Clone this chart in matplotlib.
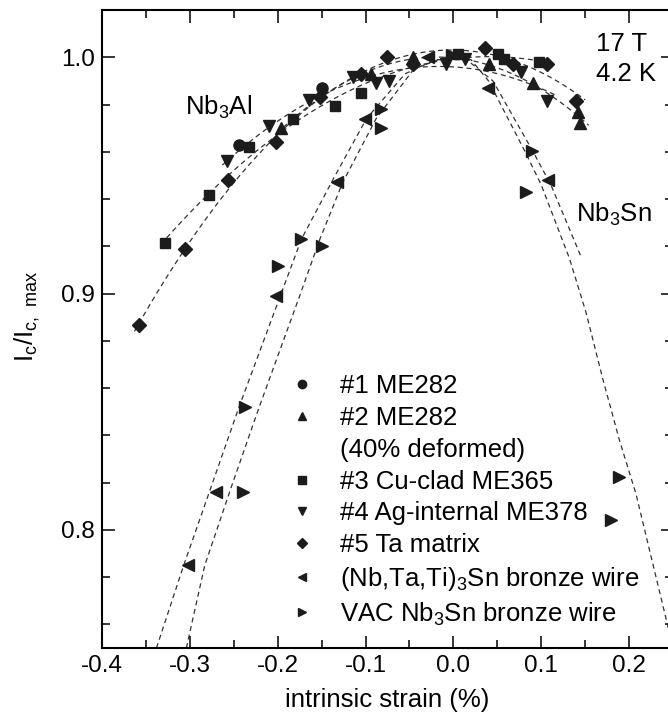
import numpy as np
import matplotlib
matplotlib.use('Agg')
import matplotlib.pyplot as plt
from matplotlib.lines import Line2D
from matplotlib.ticker import MultipleLocator, FormatStrFormatter

plt.rcParams['font.family'] = ['Liberation Sans', 'DejaVu Sans']
plt.rcParams['mathtext.default'] = 'regular'
plt.rcParams['axes.unicode_minus'] = False

# Nb3Al samples (intrinsic strain %, Ic/Ic,max)
s1_x = [-0.244, -0.149]
s1_y = [0.963, 0.987]
s2_x = [-0.196, -0.094, -0.046, 0.041, 0.091, 0.142, 0.144]
s2_y = [0.970, 0.993, 1.000, 0.997, 0.989, 0.977, 0.972]
s3_x = [-0.328, -0.278, -0.233, -0.183, -0.135, -0.105, 0.005, 0.051, 0.058, 0.098]
s3_y = [0.9215, 0.9415, 0.962, 0.974, 0.9795, 0.985, 1.0014, 1.0014, 0.9993, 0.998]
s4_x = [-0.258, -0.210, -0.164, -0.114, -0.088, -0.073, -0.008, 0.013, 0.077, 0.106]
s4_y = [0.956, 0.971, 0.982, 0.9915, 0.989, 0.990, 0.997, 0.9993, 0.9937, 0.9816]
s5_x = [-0.358, -0.305, -0.256, -0.202, -0.152, -0.105, -0.076, -0.046, 0.036, 0.068, 0.106, 0.140]
s5_y = [0.8865, 0.9187, 0.948, 0.964, 0.983, 0.993, 1.000, 0.997, 1.004, 0.997, 0.997, 0.9816]

# Nb3Sn wires
nbtati_x = [-0.302, -0.270, -0.202, -0.132, -0.101, -0.029, 0.039, 0.108]
nbtati_y = [0.785, 0.816, 0.899, 0.947, 0.974, 1.000, 0.987, 0.948]
vac_x = [-0.240, -0.237, -0.200, -0.173, -0.150, -0.082, -0.082, -0.002, 0.083, 0.089, 0.179, 0.189]
vac_y = [0.816, 0.852, 0.9116, 0.923, 0.920, 0.978, 0.970, 1.001, 0.943, 0.9605, 0.804, 0.8224]

# dashed fit curves of the Nb3Sn wires
fit_a_x = [-0.338, -0.307, -0.275, -0.244, -0.197, -0.173, -0.136, -0.099, -0.055, -0.02, 0.015, 0.045, 0.090, 0.111, 0.146]
fit_a_y = [0.750, 0.785, 0.819, 0.852, 0.899, 0.923, 0.949, 0.974, 0.993, 0.999, 0.999, 0.990, 0.9605, 0.946, 0.915]
fit_b_x = [-0.304, -0.283, -0.252, -0.221, -0.175, -0.152, -0.126, -0.088, -0.045, -0.01, 0.02, 0.040, 0.081,
           0.100, 0.132, 0.151, 0.170, 0.189, 0.208, 0.243, 0.250]
fit_b_y = [0.750, 0.785, 0.819, 0.852, 0.899, 0.923, 0.947, 0.974, 0.995, 1.0, 0.999, 0.990, 0.9605,
           0.946, 0.915, 0.892, 0.864, 0.838, 0.815, 0.761, 0.750]

labels = ['#1 ME282', '#2 ME282', '(40% deformed)', '#3 Cu-clad ME365', '#4 Ag-internal ME378',
          '#5 Ta matrix', r'(Nb,Ta,Ti)$_3$Sn bronze wire', r'VAC Nb$_3$Sn bronze wire']

FS = 18.5
MC = '#1c1c1c'
DASH = (0, (4, 3))

fig = plt.figure(figsize=(6.68, 7.16), dpi=100)
ax = fig.add_axes([102 / 668, 68 / 716, 571 / 668, 638 / 716])

# quadratic fits for the Nb3Al samples
for xs, ys in [(s2_x, s2_y), (s3_x, s3_y), (s4_x, s4_y), (s5_x, s5_y)]:
    p = np.polyfit(xs, ys, 2)
    xx = np.linspace(min(xs) - 0.005, max(xs) + 0.01, 100)
    ax.plot(xx, np.polyval(p, xx), color='#333333', lw=0.9, ls=DASH)

ax.plot(fit_a_x, fit_a_y, color='#333333', lw=0.9, ls=DASH)
ax.plot(fit_b_x, fit_b_y, color='#333333', lw=0.9, ls=DASH)

ms = 8
ax.plot(s1_x, s1_y, 'o', color=MC, ms=ms)
ax.plot(s2_x, s2_y, '^', color=MC, ms=ms)
ax.plot(s3_x, s3_y, 's', color=MC, ms=ms - 0.5)
ax.plot(s4_x, s4_y, 'v', color=MC, ms=ms)
ax.plot(s5_x, s5_y, 'D', color=MC, ms=ms - 0.5)
ax.plot(nbtati_x, nbtati_y, '<', color=MC, ms=ms + 1)
ax.plot(vac_x, vac_y, '>', color=MC, ms=ms + 1)

handles = [Line2D([], [], ls='none', marker=m, color=MC, ms=6)
           for m in ['o', '^']]
handles.append(Line2D([], [], ls='none'))
handles += [Line2D([], [], ls='none', marker=m, color=MC, ms=6) for m in ['s', 'v', 'D', '<', '>']]
handles[5].set_markersize(5)
ax.legend(handles, labels, loc='upper left', bbox_to_anchor=(0.3272, 0.4287), frameon=False,
          fontsize=FS, borderpad=0, borderaxespad=0, handlelength=1.0, handletextpad=0.99,
          labelspacing=0.3)

ax.text(-0.306, 0.9756, r'Nb$_3$Al', fontsize=FS, va='baseline')
ax.text(0.140, 0.9305, r'Nb$_3$Sn', fontsize=FS, va='baseline')
ax.text(0.162, 1.0028, '17 T', fontsize=FS, va='baseline')
ax.text(0.162, 0.990, '4.2 K', fontsize=FS, va='baseline')

ax.set_xlim(-0.4, 0.25)
ax.set_ylim(0.75, 1.02)
ax.xaxis.set_major_locator(MultipleLocator(0.1))
ax.xaxis.set_minor_locator(MultipleLocator(0.05))
ax.yaxis.set_major_locator(MultipleLocator(0.1))
ax.yaxis.set_minor_locator(MultipleLocator(0.02))
ax.xaxis.set_major_formatter(FormatStrFormatter('%.1f'))
ax.yaxis.set_major_formatter(FormatStrFormatter('%.1f'))
ax.tick_params(which='both', direction='in', top=True, right=True, width=1.1, labelsize=17.5, pad=5)
ax.tick_params(which='major', length=9)
ax.tick_params(which='minor', length=5.5)
for sp in ax.spines.values():
    sp.set_linewidth(1.5)

ax.set_xlabel('intrinsic strain (%)', fontsize=FS)
ax.xaxis.set_label_coords(0.5, -0.063)
ax.xaxis.label.set_va('top')
ax.set_ylabel(r'I$_c$/I$_{c,\ max}$', fontsize=FS)
ax.yaxis.set_label_coords(-0.105, 0.52)

fig.savefig('out.png', dpi=100)
